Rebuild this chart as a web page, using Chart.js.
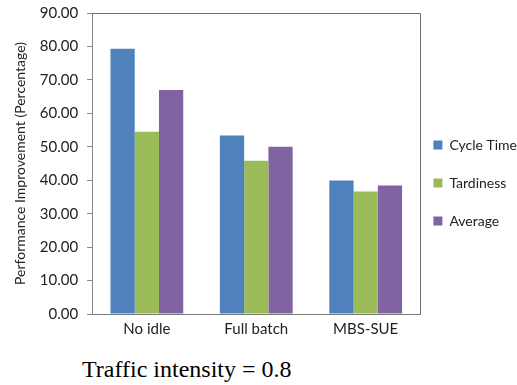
<!DOCTYPE html>
<html>
<head>
<meta charset="utf-8">
<script src="https://cdn.jsdelivr.net/npm/chart.js@4/dist/chart.umd.min.js"></script>
<style>
  html, body { margin: 0; padding: 0; background: #fff; }
  #wrap { position: relative; width: 517px; height: 385px; }
  #c { position: absolute; left: 0; top: 0; }
  #caption { position: absolute; left: 82px; top: 355px; font-family: "Liberation Serif", "Times New Roman", serif; font-size: 24px; line-height: 28px; color: #000; white-space: nowrap; }
</style>
</head>
<body>
<div id="wrap">
  <canvas id="c" width="517" height="351"></canvas>
  <div id="caption">Traffic intensity = 0.8</div>
</div>
<script>
const categories = ["No idle", "Full batch", "MBS-SUE"];
const cycleTime = [79.3, 53.4, 39.9];
const tardiness = [54.5, 45.8, 36.6];
const average = [67.0, 50.0, 38.4];
const seriesNames = ["Cycle Time", "Tardiness", "Average"];
const yAxisTitle = "Performance Improvement (Percentage)";

const FONT = "Lato, 'Liberation Sans', sans-serif";

const borderBox = {
  id: 'borderBox',
  afterDatasetsDraw(chart) {
    const {ctx, chartArea: a} = chart;
    ctx.save();
    ctx.strokeStyle = '#6e6e6e';
    ctx.lineWidth = 1;
    ctx.beginPath();
    ctx.moveTo(Math.round(a.left), Math.round(a.top) + 0.5);
    ctx.lineTo(Math.round(a.right) + 0.5, Math.round(a.top) + 0.5);
    ctx.lineTo(Math.round(a.right) + 0.5, Math.round(a.bottom) + 0.5);
    ctx.stroke();
    ctx.restore();
  }
};

// place legend a fixed gap to the right of the plot, vertically centred at a given line
const legendPlace = {
  id: 'legendPlace',
  afterLayout(chart) {
    const lg = chart.legend;
    if (!lg) return;
    const pad = lg.options.labels.padding;
    const dx = (chart.chartArea.right + 13 - pad) - lg.left;
    lg.left += dx; lg.right += dx;
    const h = lg.bottom - lg.top;
    const targetCenter = 183;
    lg.top = targetCenter - h / 2;
    lg.bottom = lg.top + h;
  }
};

new Chart(document.getElementById('c'), {
  type: 'bar',
  data: {
    labels: categories,
    datasets: [
      { label: seriesNames[0], data: cycleTime, backgroundColor: '#4F81BD' },
      { label: seriesNames[1], data: tardiness, backgroundColor: '#9BBB59' },
      { label: seriesNames[2], data: average, backgroundColor: '#8064A2' }
    ]
  },
  options: {
    responsive: false,
    animation: false,
    devicePixelRatio: 1,
    datasets: { bar: { categoryPercentage: 0.665, barPercentage: 1.0 } },
    layout: { padding: { top: 13, left: 10, right: -21, bottom: 7 } },
    plugins: {
      legend: {
        position: 'right',
        labels: {
          boxWidth: 9, boxHeight: 9, padding: 24,
          color: '#222', font: { family: FONT, size: 14 }
        }
      },
      tooltip: { enabled: false },
      title: { display: false }
    },
    scales: {
      x: {
        grid: { display: false, drawTicks: false, tickLength: 0 },
        border: { color: '#7a7a7a' },
        ticks: { color: '#222', font: { family: FONT, size: 15 }, padding: 6 }
      },
      y: {
        min: 0, max: 90,
        afterFit(scale) { scale.paddingTop = 0; scale.paddingBottom = 0; },
        ticks: { stepSize: 10, color: '#222', font: { family: FONT, size: 15 }, padding: 9,
                 callback: v => v.toFixed(2) },
        grid: { drawOnChartArea: false, drawTicks: true, tickLength: 5, color: '#868686' },
        border: { color: '#868686' },
        title: { display: true, text: yAxisTitle, color: '#222', font: { family: FONT, size: 14 }, padding: 2 }
      }
    }
  },
  plugins: [borderBox, legendPlace]
});
</script>
</body>
</html>
